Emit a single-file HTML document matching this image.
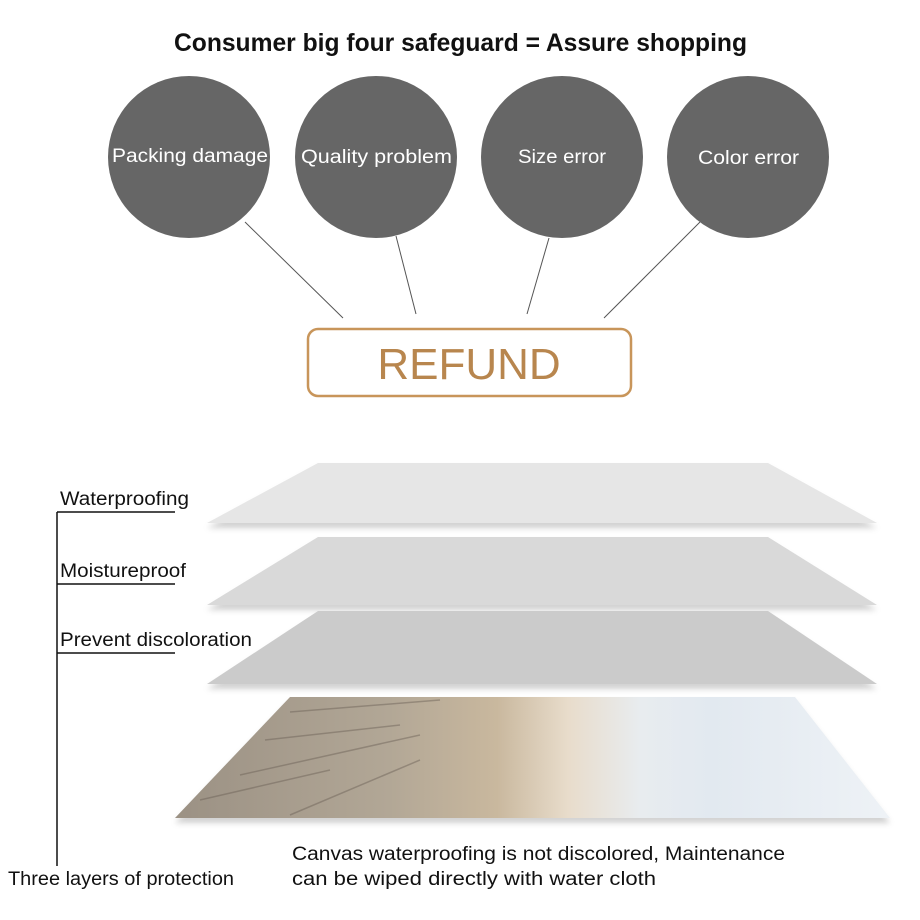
<!DOCTYPE html>
<html><head><style>
body{margin:0;background:#fff;}
svg{display:block}
</style></head><body>
<svg width="920" height="920" viewBox="0 0 920 920" xmlns="http://www.w3.org/2000/svg">
<defs>
<filter id="sh" x="-10%" y="-20%" width="120%" height="160%"><feDropShadow dx="0" dy="5" stdDeviation="3" flood-color="#000" flood-opacity="0.18"/></filter>
<linearGradient id="sea" x1="0" y1="0" x2="1" y2="0">
<stop offset="0" stop-color="#9b9184"/><stop offset="0.3" stop-color="#b2a796"/><stop offset="0.45" stop-color="#c9b89e"/><stop offset="0.55" stop-color="#e8dccb"/><stop offset="0.65" stop-color="#e8ecef"/><stop offset="0.75" stop-color="#e2e9f0"/><stop offset="1" stop-color="#eef2f6"/>
</linearGradient>
</defs>
<text x="174" y="51" textLength="573" lengthAdjust="spacingAndGlyphs" font-family="Liberation Sans, sans-serif" font-weight="bold" font-size="25" fill="#111">Consumer big four safeguard = Assure shopping</text>
<g fill="#666">
<circle cx="189" cy="157" r="81"/><circle cx="376" cy="157" r="81"/><circle cx="562" cy="157" r="81"/><circle cx="748" cy="157" r="81"/>
</g>
<g font-family="Liberation Sans, sans-serif" font-size="19" fill="#fff">
<text x="112" y="162" textLength="156" lengthAdjust="spacingAndGlyphs">Packing  damage</text>
<text x="301" y="163" textLength="151" lengthAdjust="spacingAndGlyphs">Quality  problem</text>
<text x="518" y="163" textLength="88" lengthAdjust="spacingAndGlyphs">Size  error</text>
<text x="698" y="164" textLength="101" lengthAdjust="spacingAndGlyphs">Color  error</text>
</g>
<g stroke="#555" stroke-width="1">
<line x1="245" y1="222" x2="343" y2="318"/><line x1="396" y1="236" x2="416" y2="314"/><line x1="549" y1="238" x2="527" y2="314"/><line x1="700" y1="222" x2="604" y2="318"/>
</g>
<rect x="308" y="329" width="323" height="67" rx="10" fill="#fff" stroke="#c8955a" stroke-width="2.5"/>
<text x="469" y="379" text-anchor="middle" font-family="Liberation Sans, sans-serif" font-size="44" fill="#b8864e">REFUND</text>
<polygon points="318,463 768,463 877,523 207,523" fill="#e6e6e6" filter="url(#sh)"/>
<polygon points="318,537 768,537 877,605 207,605" fill="#d9d9d9" filter="url(#sh)"/>
<polygon points="318,611 768,611 877,684 207,684" fill="#cbcbcb" filter="url(#sh)"/>
<polygon points="290,697 795,697 890,818 175,818" fill="url(#sea)" filter="url(#sh)"/>
<g stroke="#6a5f55" stroke-width="1.5" opacity="0.45">
<line x1="290" y1="712" x2="440" y2="700"/><line x1="265" y1="740" x2="400" y2="725"/><line x1="240" y1="775" x2="420" y2="735"/><line x1="290" y1="815" x2="420" y2="760"/><line x1="200" y1="800" x2="330" y2="770"/>
</g>
<g stroke="#111" stroke-width="1.5" fill="none">
<line x1="57" y1="512" x2="57" y2="866"/>
<line x1="57" y1="512" x2="175" y2="512"/><line x1="57" y1="584" x2="175" y2="584"/><line x1="57" y1="653" x2="175" y2="653"/>
</g>
<g font-family="Liberation Sans, sans-serif" font-size="19" fill="#111">
<text x="60" y="505" textLength="129" lengthAdjust="spacingAndGlyphs">Waterproofing</text>
<text x="60" y="577" textLength="126" lengthAdjust="spacingAndGlyphs">Moistureproof</text>
<text x="60" y="646" textLength="192" lengthAdjust="spacingAndGlyphs">Prevent  discoloration</text>
<text x="8" y="885" textLength="226" lengthAdjust="spacingAndGlyphs">Three layers of protection</text>
<text x="292" y="860" textLength="493" lengthAdjust="spacingAndGlyphs">Canvas  waterproofing  is  not  discolored,  Maintenance</text>
<text x="292" y="885" textLength="364" lengthAdjust="spacingAndGlyphs">can  be  wiped  directly  with  water  cloth</text>
</g>
</svg>
</body></html>
